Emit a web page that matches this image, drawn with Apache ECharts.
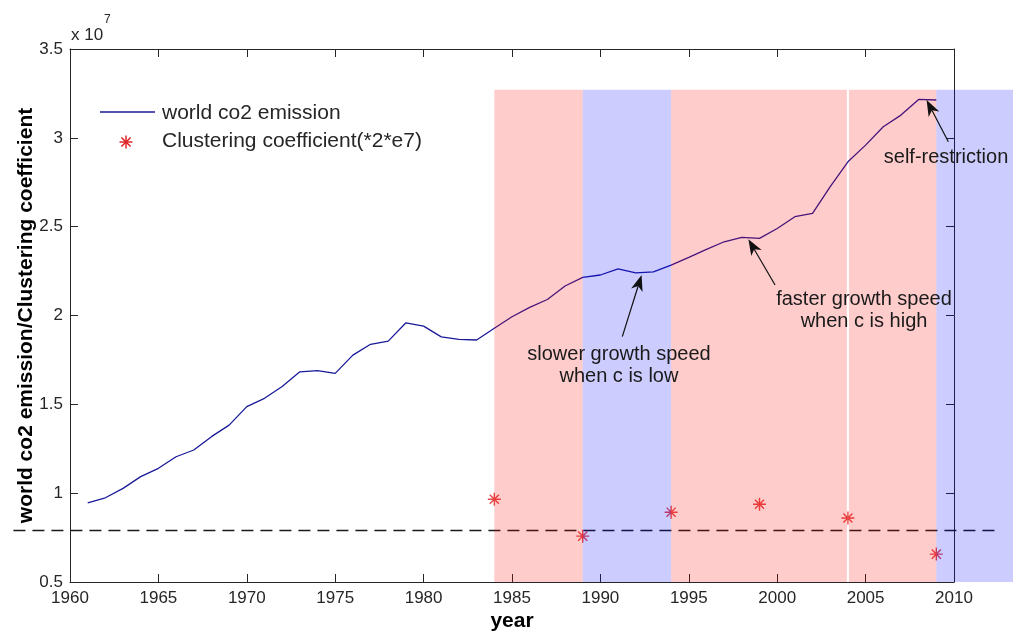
<!DOCTYPE html>
<html>
<head>
<meta charset="utf-8">
<script src="https://cdn.jsdelivr.net/npm/echarts@6/dist/echarts.min.js"></script>
<style>
  html, body { margin: 0; padding: 0; background: #ffffff; }
  #chart { width: 1013px; height: 632px; }
</style>
</head>
<body>
<div id="chart"></div>
<script>
// World CO2 emission (units of 1e7), yearly
const years = [1961, 1962, 1963, 1964, 1965, 1966, 1967, 1968, 1969, 1970,
               1971, 1972, 1973, 1974, 1975, 1976, 1977, 1978, 1979, 1980,
               1981, 1982, 1983, 1984, 1985, 1986, 1987, 1988, 1989, 1990,
               1991, 1992, 1993, 1994, 1995, 1996, 1997, 1998, 1999, 2000,
               2001, 2002, 2003, 2004, 2005, 2006, 2007, 2008, 2009];
const co2Emission = [0.946, 0.974, 1.027, 1.093, 1.140, 1.205, 1.243, 1.318, 1.383, 1.487,
                     1.534, 1.600, 1.683, 1.690, 1.674, 1.777, 1.838, 1.856, 1.959, 1.940,
                     1.880, 1.866, 1.862, 1.928, 1.993, 2.046, 2.090, 2.166, 2.215, 2.228,
                     2.263, 2.240, 2.246, 2.284, 2.327, 2.372, 2.415, 2.440, 2.434, 2.490,
                     2.556, 2.575, 2.725, 2.865, 2.959, 3.062, 3.128, 3.216, 3.213];

// Clustering coefficient scaled by 2e7 (same units)
const clusterYears = [1984, 1989, 1994, 1999, 2004, 2009];
const clusterValues = [0.966, 0.758, 0.893, 0.938, 0.860, 0.657];

// Threshold line for the clustering coefficient
const threshold = 0.79;
const thresholdSpan = [1956.8, 2012.5];

// Shaded periods: high-c (red) and low-c (blue)
const bandStart = [1984, 1989, 1994, 2004, 2009];
const bandEnd   = [1989, 1994, 2004, 2009, 2014];
const bandKind  = ['high', 'low', 'high', 'high', 'low'];
const bandTop = 3.27;
const dividerYears = [2004];

// Axis ticks
const xTicks = { min: 1960, max: 2010, step: 5 };
const yTicks = { min: 0.5, max: 3.5, step: 0.5 };

// Annotations: text, text centre, arrow tail, arrow head (data units)
const noteText = ['slower growth speed\nwhen c is low', 'faster growth speed\nwhen c is high', 'self-restriction'];
const notePos  = [[1991.05, 1.721], [2004.91, 2.028], [2009.55, 2.892]];
const arrowFrom = [[1991.24, 1.881], [1999.88, 2.172], [2009.68, 2.978]];
const arrowTo   = [[1992.33, 2.228], [1998.37, 2.429], [2008.45, 3.213]];

const FONT = '"Liberation Sans", Arial, sans-serif';
const AXIS_COLOR = '#262626';
const LINE_COLOR = '#1a1a9a';
const STAR_COLOR = '#e01b1b';
const HIGH_FILL = 'rgba(255,0,0,0.2)';
const LOW_FILL = 'rgba(0,0,255,0.2)';

const starPath = 'path://M5,0L5,10M0,5L10,5M1.5,1.5L8.5,8.5M1.5,8.5L8.5,1.5';

const chart = echarts.init(document.getElementById('chart'), null, { renderer: 'canvas' });

function axisCommon(extra) {
  return Object.assign({
    type: 'value',
    splitLine: { show: false },
    axisLine: { show: true, onZero: false, lineStyle: { color: AXIS_COLOR, width: 1 } },
    axisTick: { show: true, inside: true, length: 8, lineStyle: { color: AXIS_COLOR, width: 1 } },
    axisLabel: { show: false }
  }, extra);
}

const option = {
  animation: false,
  backgroundColor: '#ffffff',
  grid: { left: 70, right: 59, top: 49, bottom: 50, containLabel: false, outerBoundsMode: 'none' },
  xAxis: [
    axisCommon({
      position: 'bottom',
      min: xTicks.min, max: xTicks.max, interval: xTicks.step,
      axisLabel: {
        show: true, margin: 8, color: AXIS_COLOR, fontFamily: FONT, fontSize: 17,
        showMinLabel: true, showMaxLabel: true,
        formatter: function (v) { return String(v); }
      },
      name: 'year', nameLocation: 'middle', nameGap: 29, nameMoveOverlap: false,
      nameTextStyle: { fontFamily: FONT, fontSize: 21, fontWeight: 'bold', color: '#000' }
    }),
    axisCommon({ position: 'top', min: xTicks.min, max: xTicks.max, interval: xTicks.step })
  ],
  yAxis: [
    axisCommon({
      position: 'left',
      min: yTicks.min, max: yTicks.max, interval: yTicks.step,
      axisLabel: { show: true, margin: 7, color: AXIS_COLOR, fontFamily: FONT, fontSize: 17, showMinLabel: true, showMaxLabel: true },
      name: 'world co2 emission/Clustering coefficient', nameLocation: 'middle', nameGap: 33, nameMoveOverlap: false,
      nameTextStyle: { fontFamily: FONT, fontSize: 21, fontWeight: 'bold', color: '#000' }
    }),
    axisCommon({ position: 'right', min: yTicks.min, max: yTicks.max, interval: yTicks.step })
  ],
  series: [
    {
      name: 'world co2 emission',
      type: 'line',
      data: years.map((y, i) => [y, co2Emission[i]]),
      showSymbol: false,
      lineStyle: { color: LINE_COLOR, width: 1.3 },
      z: 2
    },
    {
      name: 'threshold',
      type: 'custom',
      clip: false,
      data: [[thresholdSpan[0], thresholdSpan[1], threshold]],
      encode: { x: [0, 1], y: 2 },
      renderItem: function (params, api) {
        const a = api.coord([api.value(0), api.value(2)]);
        const b = api.coord([api.value(1), api.value(2)]);
        return {
          type: 'line',
          shape: { x1: a[0], y1: a[1], x2: b[0], y2: b[1] },
          style: { stroke: '#1a1a1a', lineWidth: 1.4, lineDash: [12, 7] }
        };
      },
      z: 3
    },
    {
      name: 'Clustering coefficient(*2*e7)',
      type: 'scatter',
      data: clusterYears.map((y, i) => [y, clusterValues[i]]),
      symbol: starPath,
      symbolSize: 13,
      itemStyle: { color: 'rgba(0,0,0,0)', borderColor: STAR_COLOR, borderWidth: 1.4 },
      z: 4
    },
    {
      name: 'periods',
      type: 'custom',
      clip: false,
      data: bandStart.map((s, i) => [s, bandEnd[i], bandTop]),
      encode: { x: [0, 1], y: 2 },
      renderItem: function (params, api) {
        const x0 = api.value(0), x1 = api.value(1), top = api.value(2);
        const a = api.coord([x0, top]);
        const b = api.coord([x1, yTicks.min]);
        // leave a thin white gap where two same-coloured periods meet
        const left = dividerYears.indexOf(x0) >= 0 ? a[0] + 1 : a[0];
        const right = dividerYears.indexOf(x1) >= 0 ? b[0] - 1 : b[0];
        const kind = bandKind[params.dataIndex];
        return {
          type: 'rect',
          shape: { x: left, y: a[1], width: right - left, height: b[1] - a[1] },
          style: { fill: kind === 'high' ? HIGH_FILL : LOW_FILL }
        };
      },
      z: 10
    },
    {
      name: 'notes',
      type: 'custom',
      clip: false,
      data: noteText.map((t, i) => [arrowFrom[i][0], arrowFrom[i][1], arrowTo[i][0], arrowTo[i][1], notePos[i][0], notePos[i][1]]),
      encode: { x: [0, 2, 4], y: [1, 3, 5] },
      renderItem: function (params, api) {
        const t = api.coord([api.value(0), api.value(1)]);
        const h = api.coord([api.value(2), api.value(3)]);
        const c = api.coord([api.value(4), api.value(5)]);
        const dx = h[0] - t[0], dy = h[1] - t[1];
        const len = Math.sqrt(dx * dx + dy * dy);
        const ux = dx / len, uy = dy / len;
        const nx = -uy, ny = ux;
        const L = 16, W = 6;
        const bx = h[0] - ux * L, by = h[1] - uy * L;
        const notch = [h[0] - ux * L * 0.72, h[1] - uy * L * 0.72];
        return {
          type: 'group',
          children: [
            {
              type: 'line',
              shape: { x1: t[0], y1: t[1], x2: notch[0], y2: notch[1] },
              style: { stroke: '#111111', lineWidth: 1.2 }
            },
            {
              type: 'polygon',
              shape: { points: [[h[0], h[1]], [bx + nx * W, by + ny * W], notch, [bx - nx * W, by - ny * W]] },
              style: { fill: '#111111' }
            },
            {
              type: 'text',
              x: c[0], y: c[1],
              style: {
                text: noteText[params.dataIndex],
                font: '20px ' + FONT,
                fill: '#1a1a1a',
                align: 'center',
                verticalAlign: 'middle',
                lineHeight: 22
              }
            }
          ]
        };
      },
      z: 12
    }
  ],
  graphic: [
    // axis multiplier
    { type: 'text', left: 71, top: 27, style: { text: 'x 10', font: '17px ' + FONT, fill: AXIS_COLOR } },
    { type: 'text', left: 104, top: 14, style: { text: '7', font: '12px ' + FONT, fill: AXIS_COLOR } },
    // legend
    { type: 'line', shape: { x1: 100, y1: 112, x2: 155, y2: 112 }, style: { stroke: LINE_COLOR, lineWidth: 1.3 } },
    { type: 'text', left: 162, top: 103, style: { text: 'world co2 emission', font: '21px ' + FONT, fill: AXIS_COLOR } },
    {
      type: 'group', x: 126, y: 142,
      children: [
        { type: 'line', shape: { x1: 0, y1: -6.5, x2: 0, y2: 6.5 }, style: { stroke: STAR_COLOR, lineWidth: 1.4 } },
        { type: 'line', shape: { x1: -6.5, y1: 0, x2: 6.5, y2: 0 }, style: { stroke: STAR_COLOR, lineWidth: 1.4 } },
        { type: 'line', shape: { x1: -4.6, y1: -4.6, x2: 4.6, y2: 4.6 }, style: { stroke: STAR_COLOR, lineWidth: 1.4 } },
        { type: 'line', shape: { x1: -4.6, y1: 4.6, x2: 4.6, y2: -4.6 }, style: { stroke: STAR_COLOR, lineWidth: 1.4 } }
      ]
    },
    { type: 'text', left: 162, top: 131, style: { text: 'Clustering coefficient(*2*e7)', font: '21px ' + FONT, fill: AXIS_COLOR } }
  ]
};

chart.setOption(option);
</script>
</body>
</html>
